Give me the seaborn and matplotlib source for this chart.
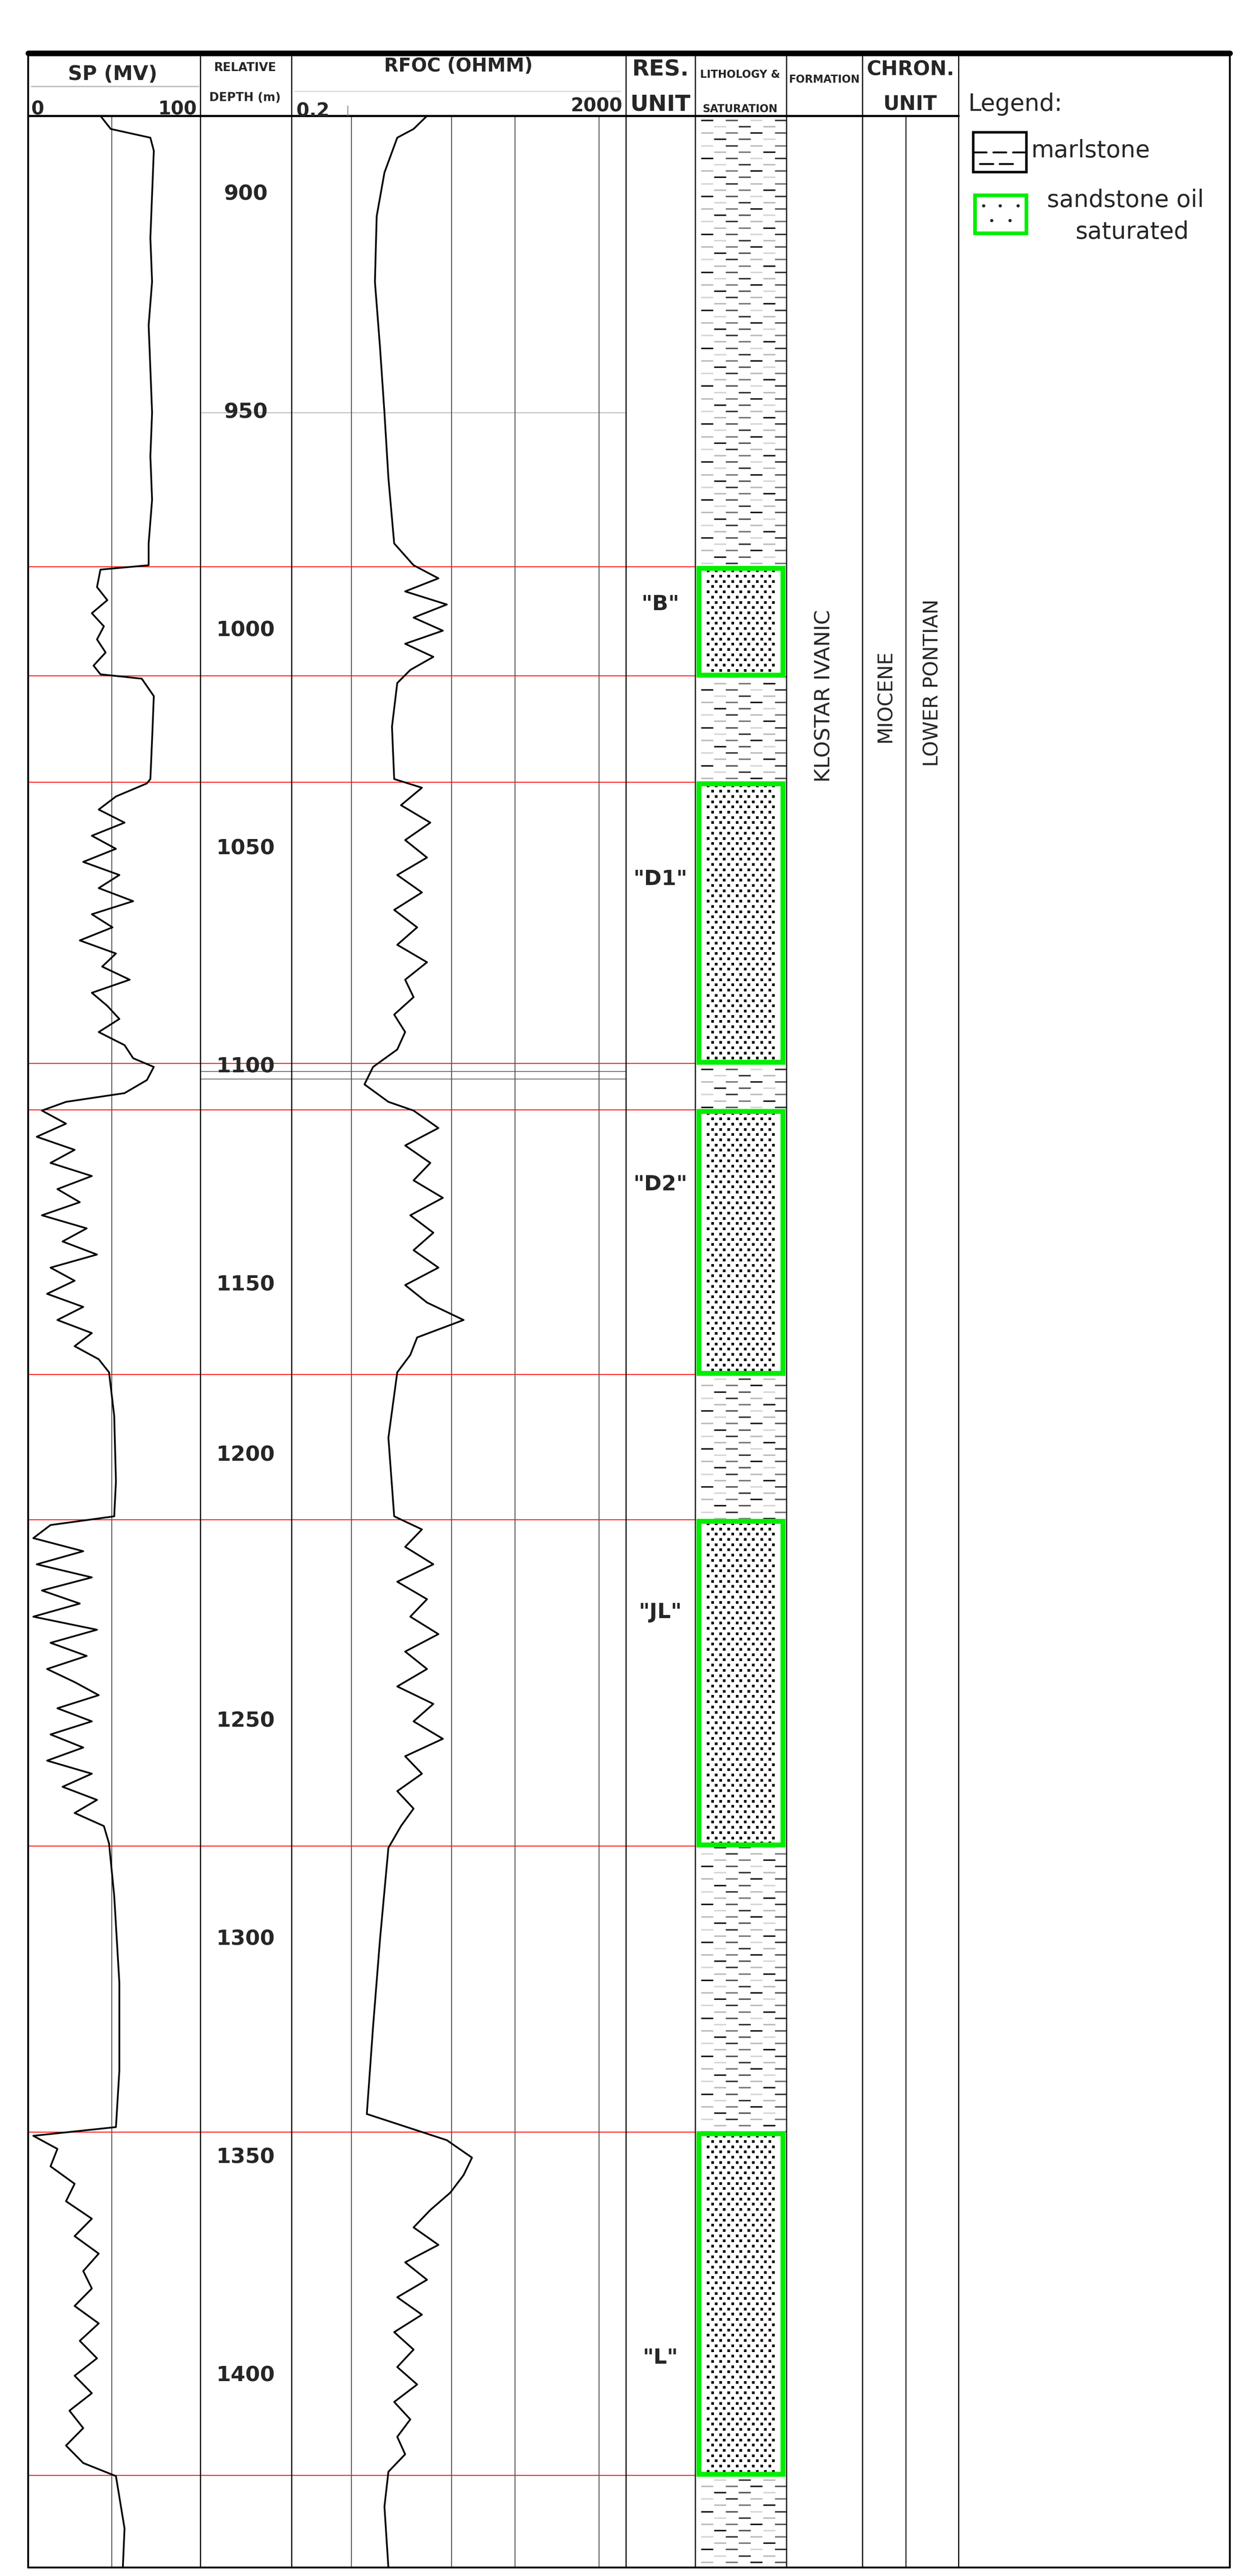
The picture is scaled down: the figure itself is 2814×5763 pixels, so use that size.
import numpy as np
import matplotlib
matplotlib.use("Agg")
import matplotlib.pyplot as plt
import seaborn as sns
from matplotlib.patches import Rectangle

sns.set_theme(style="white")
plt.rcParams['font.family'] = ['DejaVu Sans']

# ---------------- data ----------------
sp_depth = [882, 885, 887, 890, 900, 910, 920, 930, 940, 950, 960, 970, 980, 985,
            986, 990, 993, 996, 999, 1002, 1005, 1008, 1010, 1011, 1015, 1025, 1034,
            1035, 1038, 1041, 1044, 1047, 1050, 1053, 1056, 1059, 1062, 1065, 1068, 1071, 1074,
            1077, 1080, 1083, 1086, 1089, 1092, 1095, 1098, 1100, 1103, 1106, 1108,
            1110, 1113, 1116, 1119, 1122, 1125, 1128, 1131, 1134, 1137, 1140, 1143, 1146, 1149,
            1152, 1155, 1158, 1161, 1164, 1167, 1170, 1180, 1195, 1203,
            1205, 1208, 1211, 1214, 1217, 1220, 1223, 1226, 1229, 1232, 1235, 1238, 1241, 1244,
            1247, 1250, 1253, 1256, 1259, 1262, 1265, 1268, 1271, 1274, 1278,
            1290, 1310, 1330, 1343,
            1345, 1348, 1352, 1356, 1360, 1364, 1368, 1372, 1376, 1380, 1384, 1388, 1392, 1396,
            1400, 1404, 1408, 1412, 1416, 1420, 1423, 1435, 1444]
sp_mv = [42, 48, 71, 73, 72, 71, 72, 70, 71, 72, 71, 72, 70, 70,
         42, 40, 46, 37, 44, 40, 45, 38, 42, 66, 73, 72, 71,
         69, 51, 41, 56, 37, 51, 32, 53, 41, 61, 37, 49, 30, 51,
         43, 59, 37, 46, 53, 41, 56, 61, 73, 69, 56, 22,
         8, 22, 5, 27, 13, 37, 17, 30, 8, 34, 20, 40, 13, 27,
         11, 32, 17, 37, 27, 41, 47, 50, 51, 50,
         13, 3, 32, 5, 37, 8, 30, 3, 40, 13, 34, 11, 27, 41,
         17, 37, 13, 32, 11, 37, 20, 40, 27, 44, 47,
         50, 53, 53, 51,
         3, 17, 13, 27, 22, 37, 27, 41, 32, 37, 27, 41, 30, 40,
         27, 37, 24, 32, 22, 32, 51, 56, 55]

rt_depth = [882, 885, 887, 895, 905, 920, 935, 950, 965, 980, 985,
            988, 991, 994, 997, 1000, 1003, 1006, 1009, 1012, 1022, 1034,
            1036, 1040, 1044, 1048, 1052, 1056, 1060, 1064, 1068, 1072, 1076, 1080, 1084, 1088,
            1092, 1096, 1100, 1104, 1108,
            1110, 1114, 1118, 1122, 1126, 1130, 1134, 1138, 1142, 1146, 1150, 1154, 1158, 1162,
            1166, 1170, 1185, 1203,
            1206, 1210, 1214, 1218, 1222, 1226, 1230, 1234, 1238, 1242, 1246, 1250, 1254, 1258,
            1262, 1266, 1270, 1274, 1279, 1300, 1320, 1340,
            1346, 1350, 1354, 1358, 1362, 1366, 1370, 1374, 1378, 1382, 1386, 1390, 1394, 1398,
            1402, 1406, 1410, 1414, 1418, 1422, 1430, 1444]
rt_ohmm = [8.4, 5.8, 3.7, 2.6, 2.1, 2.0, 2.3, 2.6, 2.9, 3.4, 5.8,
           11.5, 4.6, 14.5, 5.8, 13, 4.6, 10, 5.3, 3.7, 3.2, 3.4,
           7.3, 4.1, 9.2, 4.6, 8.4, 3.7, 7.3, 3.4, 6.4, 3.7, 8.4, 4.6, 5.8, 3.4,
           4.6, 3.7, 1.9, 1.5, 2.9,
           5.8, 11.5, 4.6, 9.2, 5.8, 13, 5.3, 10, 5.8, 11.5, 4.6, 8.4, 23, 6.4,
           5.3, 3.7, 2.9, 3.4,
           7.3, 4.6, 10, 3.7, 8.4, 5.3, 11.5, 4.6, 8.4, 3.7, 10, 5.8, 13, 4.6,
           7.3, 3.7, 5.8, 4.1, 2.9, 2.3, 1.9, 1.6,
           14.5, 29, 23, 16, 9.2, 5.8, 11.5, 4.6, 8.4, 3.7, 7.3, 3.4, 5.8, 3.7,
           6.4, 3.4, 5.3, 3.7, 4.6, 2.9, 2.6, 2.9]

sand_names = ['"B"', '"D1"', '"D2"', '"JL"', '"L"']
sand_top = [985.4, 1034.7, 1109.8, 1203.8, 1344.2]
sand_base = [1010.4, 1099.2, 1170.5, 1278.6, 1422.8]
sand_label_depth = [994, 1057, 1127, 1225, 1396]
depth_ticks = [900, 950, 1000, 1050, 1100, 1150, 1200, 1250, 1300, 1350, 1400]
depth_label_pos = [900, 950, 1000, 1050, 1100, 1150, 1189, 1250, 1300, 1350, 1400]

DTOP, DBOT = 882, 1444

# ---------------- layout ----------------
W, H = 760.0, 1556.0
fig = plt.figure(figsize=(28.14, 57.63), dpi=100)

def fx(x): return x / W
def fy(y): return 1 - y / H

Y0, Y1 = 70, 1551
def mkax(x0, x1):
    ax = fig.add_axes([fx(x0), fy(Y1), fx(x1) - fx(x0), (Y1 - Y0) / H])
    ax.set_ylim(DBOT, DTOP)
    ax.set_xticks([]); ax.set_yticks([])
    for s in ax.spines.values():
        s.set_visible(False)
    ax.patch.set_alpha(0)
    return ax

ax_sp = mkax(17, 121)
ax_dp = mkax(121, 176)
ax_rt = mkax(176, 378)
ax_res = mkax(378, 420)
ax_lit = mkax(420, 475)
ax_for = mkax(475, 521)
ax_chr = mkax(521, 579)

for d in sand_top + sand_base:
    for ax in (ax_sp, ax_dp, ax_rt, ax_res):
        ax.axhline(d, color='#ff2020', lw=1.6, zorder=1)
for ax in (ax_dp, ax_rt):
    ax.axhline(950, color='#999999', lw=1.0, zorder=1)
    ax.axhline(1101, color='#555555', lw=1.2, zorder=1)
    ax.axhline(1102.8, color='#555555', lw=1.2, zorder=1)

# SP track
ax_sp.set_xlim(0, 100)
ax_sp.axvline(48.5, color='#555555', lw=1.5)
sns.lineplot(x=sp_mv, y=sp_depth, orient='y', sort=False, ax=ax_sp, color='black', lw=2.8)
ax_sp.set_xlabel(''); ax_sp.set_ylabel('')
ax_sp.set_ylim(DBOT, DTOP); ax_sp.set_xticks([]); ax_sp.set_yticks([])

# RFOC track (log)
ax_rt.set_xscale('log')
ax_rt.set_xlim(0.2, 2000)
for g in [1.05, 16.6, 95, 955]:
    ax_rt.axvline(g, color='#555555', lw=1.5)
sns.lineplot(x=rt_ohmm, y=rt_depth, orient='y', sort=False, ax=ax_rt, color='black', lw=2.8)
ax_rt.set_xlabel(''); ax_rt.set_ylabel('')
ax_rt.set_ylim(DBOT, DTOP); ax_rt.minorticks_off(); ax_rt.set_xticks([]); ax_rt.set_yticks([])

for t, p in zip(depth_ticks, depth_label_pos):
    ax_dp.text(0.5, p, str(t), transform=ax_dp.get_yaxis_transform(), ha='center',
               va='center', fontsize=34, fontweight='bold')

for n, p in zip(sand_names, sand_label_depth):
    ax_res.text(0.5, p, n, transform=ax_res.get_yaxis_transform(), ha='center',
                va='center', fontsize=34, fontweight='bold')

# lithology column: marlstone dashes
ax_lit.set_xlim(0, 1)
rows = np.arange(DTOP + 1.0, DBOT, 1.45)
shades = ['#111111', '#777777', '#bbbbbb', '#333333', '#d5d5d5', '#555555']
for i, r in enumerate(rows):
    xs = np.arange(0.13 if i % 2 == 0 else 0.27, 0.95, 0.27)
    cols = [shades[(i * 4 + j * 5) % 6] for j in range(len(xs))]
    ax_lit.scatter(xs, np.full_like(xs, r), marker='_', s=380, linewidths=2.4,
                   c=cols, zorder=1)
for t, b in zip(sand_top, sand_base):
    ax_lit.add_patch(Rectangle((0.0, t), 1.0, b - t, facecolor='white', edgecolor='none', zorder=2))
    drows = np.arange(t + 0.9, b - 0.5, 1.2)
    for k, r in enumerate(drows):
        xs = np.arange(0.14 if k % 2 == 0 else 0.19, 0.9, 0.09)
        ax_lit.scatter(xs, np.full_like(xs, r), marker='s', s=22, color='black',
                       linewidths=0, zorder=3)
    ax_lit.add_patch(Rectangle((0.04, t + 0.3), 0.92, b - t - 0.6, facecolor='none',
                               edgecolor='#00ee00', lw=8, zorder=4))

# formation & chron columns
ax_for.text(0.5, 1015, 'KLOSTAR IVANIC', transform=ax_for.get_yaxis_transform(), rotation=90,
            ha='center', va='center', fontsize=34)
ax_chr.axvline(0.45, color='#555555', lw=2.5)
ax_chr.text(0.24, 1015, 'MIOCENE', transform=ax_chr.get_yaxis_transform(), rotation=90,
            ha='center', va='center', fontsize=32)
ax_chr.text(0.73, 1012, 'LOWER PONTIAN', transform=ax_chr.get_yaxis_transform(), rotation=90,
            ha='center', va='center', fontsize=32)

# ---------------- frame & header ----------------
def hline(y, x0, x1, lw=2, c='black'):
    fig.add_artist(plt.Line2D([fx(x0), fx(x1)], [fy(y), fy(y)], color=c, lw=lw))
def vline(x, y0, y1, lw=2, c='black'):
    fig.add_artist(plt.Line2D([fx(x), fx(x)], [fy(y0), fy(y1)], color=c, lw=lw))

hline(32, 17, 743, lw=9)
hline(1551, 17, 743, lw=3)
hline(70, 17, 579, lw=3.5)
for x in [17, 743]:
    vline(x, 32, 1551, lw=3)
for x in [121, 176, 378, 420, 475, 521, 579]:
    vline(x, 34, 1551, lw=1.8)
vline(210, 64, 70, lw=1.2, c='#777777')
hline(52, 19, 120, lw=2, c='#bbbbbb')
hline(55, 178, 375, lw=2, c='#dddddd')

def T(x, y, s, **kw):
    fig.text(fx(x), fy(y), s, **kw)

T(68, 45, 'SP (MV)', ha='center', va='center', fontsize=32, fontweight='bold')
T(19, 66, '0', ha='left', va='center', fontsize=30, fontweight='bold')
T(119, 66, '100', ha='right', va='center', fontsize=30, fontweight='bold')
T(148, 41, 'RELATIVE', ha='center', va='center', fontsize=19, fontweight='bold')
T(148, 59, 'DEPTH (m)', ha='center', va='center', fontsize=19, fontweight='bold')
T(277, 40, 'RFOC (OHMM)', ha='center', va='center', fontsize=30, fontweight='bold')
T(179, 67, '0.2', ha='left', va='center', fontsize=30, fontweight='bold')
T(376, 64, '2000', ha='right', va='center', fontsize=30, fontweight='bold')
T(399, 42, 'RES.', ha='center', va='center', fontsize=36, fontweight='bold')
T(399, 63, 'UNIT', ha='center', va='center', fontsize=36, fontweight='bold')
T(447, 45, 'LITHOLOGY &', ha='center', va='center', fontsize=17, fontweight='bold')
T(447, 66, 'SATURATION', ha='center', va='center', fontsize=17, fontweight='bold')
T(498, 48, 'FORMATION', ha='center', va='center', fontsize=17, fontweight='bold')
T(550, 42, 'CHRON.', ha='center', va='center', fontsize=32, fontweight='bold')
T(550, 63, 'UNIT', ha='center', va='center', fontsize=32, fontweight='bold')

# legend
T(585, 63, 'Legend:', ha='left', va='center', fontsize=38)
fig.add_artist(Rectangle((fx(588), fy(104)), fx(620) - fx(588), fy(80) - fy(104),
                         facecolor='white', edgecolor='black', lw=4))
for (px, py) in [(592, 92), (604, 92), (616, 92), (596, 99), (608, 99)]:
    hline(py, px - 4, px + 4, lw=3)
T(623, 91, 'marlstone', ha='left', va='center', fontsize=38)
fig.add_artist(Rectangle((fx(589), fy(141)), fx(620) - fx(589), fy(118) - fy(141),
                         facecolor='white', edgecolor='#00ee00', lw=6))
for (px, py) in [(594, 125), (604, 125), (615, 125), (599, 134), (610, 134)]:
    T(px, py, '\u2022', ha='center', va='center', fontsize=18)
T(680, 121, 'sandstone oil', ha='center', va='center', fontsize=38)
T(684, 140, 'saturated', ha='center', va='center', fontsize=38)

fig.savefig('out.png', dpi=100, facecolor='white')
